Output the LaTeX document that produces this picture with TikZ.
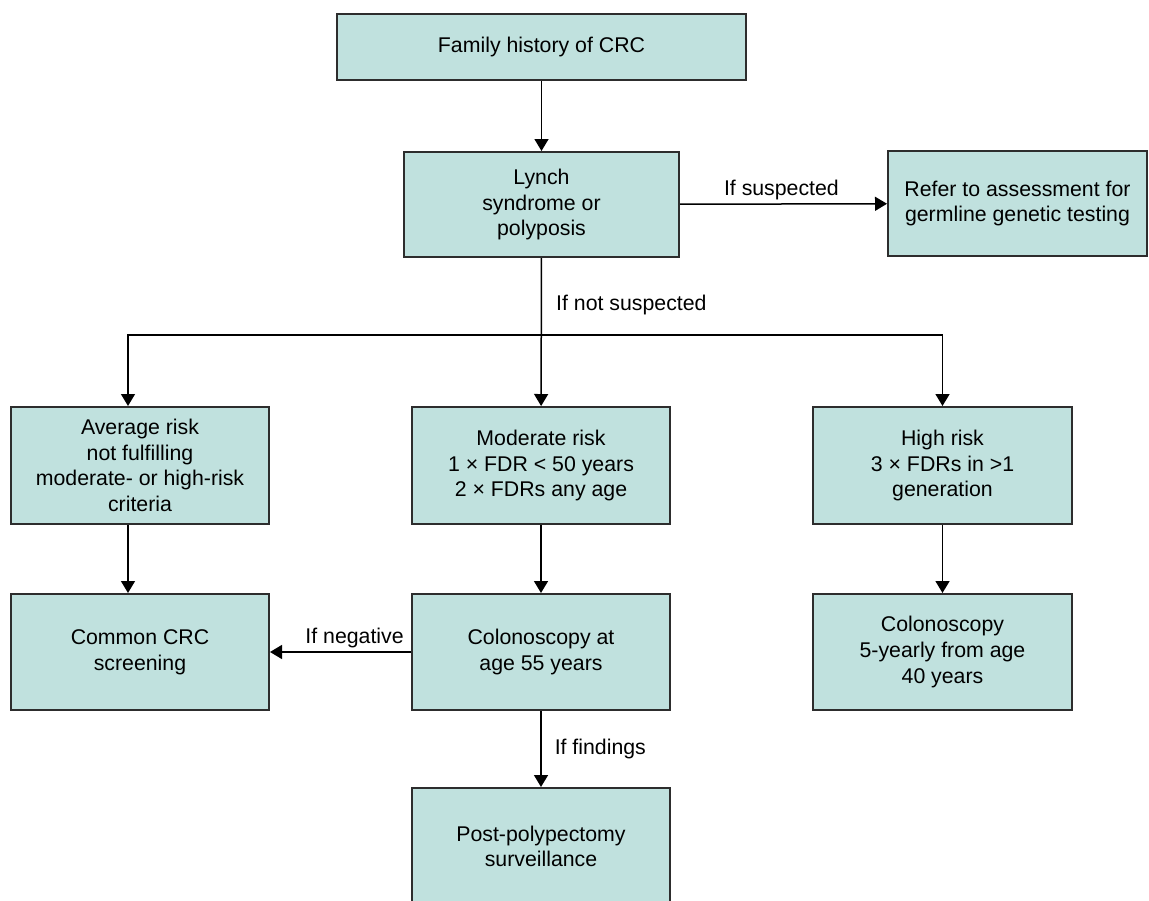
\documentclass[tikz,border=0pt]{standalone}
\usepackage{fontspec}
\setmainfont{Liberation Sans}
\usetikzlibrary{arrows.meta}
\definecolor{boxfill}{RGB}{192,225,222}
\definecolor{boxline}{RGB}{45,45,45}
\begin{document}
\begin{tikzpicture}[x=1pt,y=-1pt,
    font=\fontsize{21.3}{25.6}\selectfont,
    box/.style={draw=boxline,fill=boxfill,line width=2pt,align=center,inner sep=0pt,
        minimum width=258pt,minimum height=117pt},
    arr/.style={-{Triangle[length=12pt,width=14pt]},line width=1.5pt},
    lbl/.style={inner sep=3pt}]
    \useasboundingbox (0,0) rectangle (1149,900);
    % top
    \node[box,minimum width=409pt,minimum height=66pt] (family) at (541.5,47) {Family history of CRC};
    \node[box,minimum width=275pt,minimum height=105pt] (lynch) at (541.5,204.5) {Lynch\\syndrome or\\polyposis};
    \node[box,minimum width=259pt,minimum height=105pt] (refer) at (1017.5,203.5) {Refer to assessment for\\germline genetic testing};
    \draw[arr] (family) -- (lynch);
    \draw[arr] (lynch) -- node[lbl,above,pos=0.49]{If suspected} (refer);

    % risk groups
    \def\y{465.5}
    \node[box] (avg) at (140,\y) {Average risk\\not fulfilling\\moderate- or high-risk\\criteria};
    \node[box] (mod) at (541,\y) {Moderate risk\\1 × FDR < 50 years\\2 × FDRs any age};
    \node[box,minimum width=259pt] (high) at (942.5,\y) {High risk\\3 × FDRs in >1\\generation};
    \coordinate (split) at (541,335);
    \draw[arr] (lynch) -- (mod);
    \node[lbl,anchor=west] (notsusp) at (553,305) {If not suspected};
    \draw[arr] (split) -| ([xshift=-12pt]avg.north);
    \draw[arr] (split) -| (high.north);

    % bottom
    \def\y{652}
    \node[box,minimum height=116pt] (common) at (140,\y) {Common CRC\\screening};
    \node[box,minimum height=116pt] (colon) at (541,\y) {Colonoscopy at\\age 55 years};
    \node[box,minimum width=259pt,minimum height=116pt] (colonfive) at (942.5,\y) {Colonoscopy\\5-yearly from age\\40 years};
    \foreach \a/\b/\dx in {avg/common/-12,mod/colon/0,high/colonfive/0}
        \draw[arr] ([xshift=\dx pt]\a.south) -- ([xshift=\dx pt]\b.north);
    \draw[arr] (colon) -- node[lbl,above,pos=0.4]{If negative} (common);

    % surveillance
    \node[box] (post) at (541,846.5) {Post-polypectomy\\surveillance};
    \draw[arr] (colon) -- node[lbl,right,xshift=10pt]{If findings} (post);
\end{tikzpicture}
\end{document}
